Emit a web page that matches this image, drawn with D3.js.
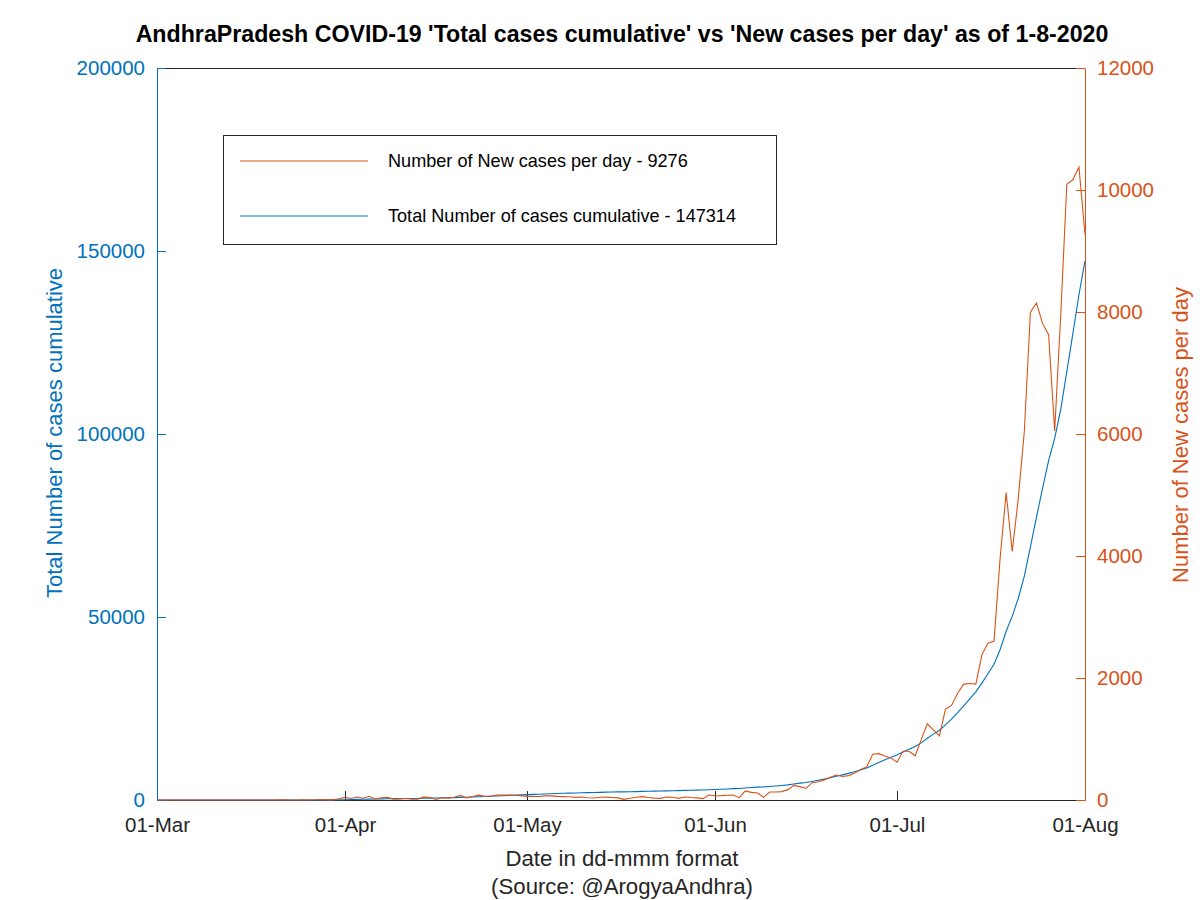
<!DOCTYPE html>
<html><head><meta charset="utf-8">
<script src="https://cdn.jsdelivr.net/npm/d3@7"></script>
<style>
html,body{margin:0;padding:0;background:#fff;}
svg{display:block;font-family:"Liberation Sans",Arial,Helvetica,sans-serif;}
</style></head>
<body><svg id="chart" width="1200" height="900"></svg>
<script>
// ---- data ----
const startDate = "2020-03-01";
const newCases = [
  // March
  0,0,0,0,0,0,0,0,0,0,0,1,0,0,0,0,0,0,0,0,2,2,1,1,2,1,3,6,2,2,21,
  // April
  43,24,50,29,62,14,38,44,15,18,24,15,12,51,42,9,38,31,44,75,35,56,80,62,61,81,80,82,73,71,
  // May
  60,62,58,67,67,60,56,54,43,50,38,33,44,47,40,35,10,30,44,55,40,30,27,49,45,27,49,40,35,22,82,
  // June
  70,72,78,82,38,148,125,115,44,131,130,137,170,240,219,190,284,300,330,372,410,385,400,437,500,540,750,760,720,690,
  // July
  620,800,800,725,990,1250,1150,1050,1490,1550,1750,1900,1910,1900,2380,2570,2600,3960,5041,4074,4944,6045,7998,8147,7813,7627,6051,7948,10093,10167,10376,
  // August
  9276
];
const totalCases = [
  // March
  0,0,0,0,0,0,0,0,0,0,0,1,1,1,1,1,1,1,1,1,3,5,6,7,9,10,13,19,21,23,44,
  // April
  87,111,161,190,252,266,304,348,363,381,405,420,432,483,525,534,572,603,647,722,757,813,893,955,1016,1097,1177,1259,1332,1403,
  // May
  1463,1525,1583,1650,1717,1777,1833,1887,1930,1980,2018,2051,2095,2142,2182,2217,2227,2257,2301,2356,2396,2426,2453,2502,2547,2574,2623,2663,2698,2720,2802,
  // June
  2872,2944,3022,3104,3142,3290,3415,3530,3574,3705,3835,3972,4142,4382,4601,4791,5075,5375,5705,6077,6487,6872,7272,7709,8209,8749,9499,10259,10979,11669,
  // July
  12289,13089,13889,14614,15604,16854,18004,19054,20544,22094,23844,25744,27654,29554,31934,34504,37104,41064,46105,50179,55123,61168,69166,77313,85126,92753,98804,106752,117045,127412,138038,
  // August
  147314
];
const xTickDates = ["2020-03-01","2020-04-01","2020-05-01","2020-06-01","2020-07-01","2020-08-01"];
const xTickLabels = ["01-Mar","01-Apr","01-May","01-Jun","01-Jul","01-Aug"];
const leftTicks = [0,50000,100000,150000,200000];
const rightTicks = [0,2000,4000,6000,8000,10000,12000];
const titleText = "AndhraPradesh COVID-19 'Total cases cumulative' vs 'New cases per day' as of 1-8-2020";
const legendLabels = ["Number of New cases per day - 9276","Total Number of cases cumulative - 147314"];

// ---- layout ----
const L = 157, R = 1085, T = 68, B = 800;
const BLUE = "#0072BD", ORANGE = "#D95319", AX = "#262626";
const svg = d3.select("#chart");

const parse = d3.utcParse("%Y-%m-%d");
const dates = d3.utcDay.range(parse(startDate), d3.utcDay.offset(parse(startDate), newCases.length));

const x = d3.scaleUtc().domain([parse("2020-03-01"), parse("2020-08-01")]).range([L, R]);
const yL = d3.scaleLinear().domain([0, 200000]).range([B, T]);
const yR = d3.scaleLinear().domain([0, 12000]).range([B, T]);

// top box line
svg.append("line").attr("x1", L).attr("x2", R).attr("y1", T + 0.5).attr("y2", T + 0.5)
  .attr("stroke", AX).attr("stroke-width", 1);

// x axis
const xAxis = d3.axisBottom(x).tickValues(xTickDates.map(parse))
  .tickFormat((d, i) => xTickLabels[i]).tickSizeInner(-9).tickSizeOuter(0).tickPadding(17);
const gx = svg.append("g").attr("transform", `translate(0,${B})`).call(xAxis);
gx.select(".domain").attr("stroke", AX);
gx.selectAll(".tick line").attr("stroke", AX);
gx.selectAll("text").attr("fill", AX).style("font-size", "20.5px");

// left axis
const gl = svg.append("g").attr("transform", `translate(${L},0)`)
  .call(d3.axisLeft(yL).tickValues(leftTicks).tickFormat(d3.format("d")).tickSizeInner(-9).tickSizeOuter(0).tickPadding(12));
gl.select(".domain").attr("stroke", BLUE);
gl.selectAll(".tick line").attr("stroke", BLUE);
gl.selectAll("text").attr("fill", BLUE).style("font-size", "20.5px");

// right axis
const gr = svg.append("g").attr("transform", `translate(${R},0)`)
  .call(d3.axisRight(yR).tickValues(rightTicks).tickFormat(d3.format("d")).tickSizeInner(-9).tickSizeOuter(0).tickPadding(12));
gr.select(".domain").attr("stroke", ORANGE);
gr.selectAll(".tick line").attr("stroke", ORANGE);
gr.selectAll("text").attr("fill", ORANGE).style("font-size", "20.5px");
svg.selectAll("g").attr("font-size", null).attr("font-family", null);

// lines
const lineTotal = d3.line().x((d, i) => x(dates[i])).y(d => yL(d));
const lineNew = d3.line().x((d, i) => x(dates[i])).y(d => yR(d));
svg.append("path").datum(totalCases).attr("d", lineTotal)
  .attr("fill", "none").attr("stroke", BLUE).attr("stroke-width", 1.1);
svg.append("path").datum(newCases).attr("d", lineNew)
  .attr("fill", "none").attr("stroke", ORANGE).attr("stroke-width", 1.1);

// title
svg.append("text").attr("x", 622).attr("y", 42).attr("text-anchor", "middle")
  .style("font-size", "23.2px").style("font-weight", "bold").attr("fill", "#000").text(titleText);

// x label
svg.append("text").attr("x", 622).attr("y", 866).attr("text-anchor", "middle")
  .style("font-size", "22.2px").attr("fill", AX).text("Date in dd-mmm format");
svg.append("text").attr("x", 622).attr("y", 894).attr("text-anchor", "middle")
  .style("font-size", "22.2px").attr("fill", AX).text("(Source: @ArogyaAndhra)");

// y labels
svg.append("text").attr("transform", "translate(62,433) rotate(-90)").attr("text-anchor", "middle")
  .style("font-size", "22px").attr("fill", BLUE).text("Total Number of cases cumulative");
svg.append("text").attr("transform", "translate(1188,435) rotate(-90)").attr("text-anchor", "middle")
  .style("font-size", "22px").attr("fill", ORANGE).text("Number of New cases per day");

// legend
const lg = svg.append("g");
lg.append("rect").attr("x", 223.5).attr("y", 135.5).attr("width", 553).attr("height", 109)
  .attr("fill", "#fff").attr("stroke", AX).attr("stroke-width", 1);
const legColors = [ORANGE, BLUE];
const legY = [161, 216];
legendLabels.forEach((lab, i) => {
  lg.append("line").attr("x1", 240).attr("x2", 368).attr("y1", legY[i]).attr("y2", legY[i])
    .attr("stroke", legColors[i]).attr("stroke-width", 1.1);
  lg.append("text").attr("x", 388).attr("y", legY[i]).attr("dy", "0.35em")
    .style("font-size", "18.1px").attr("fill", "#000").text(lab);
});
</script>
</body></html>
